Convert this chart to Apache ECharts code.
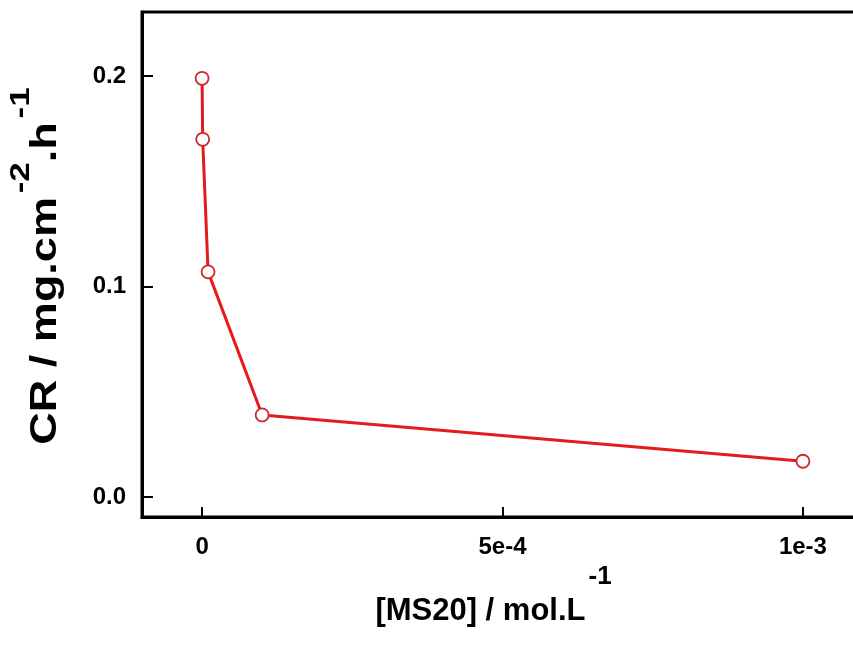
<!DOCTYPE html>
<html>
<head>
<meta charset="utf-8">
<script src="https://cdn.jsdelivr.net/npm/echarts@6/dist/echarts.min.js"></script>
<style>
  html, body { margin: 0; padding: 0; background: #fff; }
  #chart { width: 853px; height: 645px; }
</style>
</head>
<body>
<div id="chart"></div>
<script>
// Corrosion rate versus inhibitor concentration
const concentration = [0, 1e-6, 1e-5, 1e-4, 1e-3];      // mol/L
const corrosionRate = [0.199, 0.170, 0.107, 0.039, 0.017]; // mg/cm2/h

const xTickValues = [0, 5e-4, 1e-3];
const xTickLabels = ['0', '5e-4', '1e-3'];
const yTickValues = [0, 0.1, 0.2];
const yTickLabels = ['0.0', '0.1', '0.2'];

const FONT = '"Liberation Sans", Arial, sans-serif';

const chart = echarts.init(document.getElementById('chart'), null, { renderer: 'canvas' });

chart.setOption({
  animation: false,
  backgroundColor: '#fff',
  grid: {
    left: 142, top: 12, right: -10, bottom: 128,
    outerBoundsMode: 'none',
    containLabel: false,
    show: true, borderColor: '#000', borderWidth: 3, backgroundColor: 'transparent'
  },
  // vertical axis title, stretched along its length
  graphic: [{
    type: 'text',
    x: 46,
    y: 266,
    rotation: Math.PI / 2,
    scaleX: 1.25,
    scaleY: 1,
    silent: true,
    style: {
      text: '{b|CR / mg.cm}{s|-2}{b|.h}{s|-1}',
      align: 'center',
      verticalAlign: 'middle',
      rich: {
        b: { fontFamily: FONT, fontWeight: 'bold', fontSize: 36, fill: '#000', color: '#000' },
        s: { fontFamily: FONT, fontWeight: 'bold', fontSize: 28, fill: '#000', color: '#000', padding: [0, 0, 50, 3] }
      }
    }
  }],
  xAxis: {
    type: 'value',
    min: -1e-4,
    max: 1.1e-3,
    splitLine: { show: false },
    axisLine: { show: true, onZero: false, lineStyle: { color: '#000', width: 3 } },
    axisTick: { show: true, inside: true, length: 10, customValues: xTickValues,
                lineStyle: { color: '#000', width: 2 } },
    axisLabel: {
      customValues: xTickValues,
      formatter: v => xTickLabels[xTickValues.indexOf(v)] ?? '',
      color: '#000', fontFamily: FONT, fontWeight: 'bold', fontSize: 24, margin: 18
    },
    name: '{b|[MS20] / mol.L}{s|-1}',
    nameLocation: 'middle',
    nameGap: 46,
    nameTextStyle: {
      rich: {
        b: { fontFamily: FONT, fontWeight: 'bold', fontSize: 31, color: '#000' },
        s: { fontFamily: FONT, fontWeight: 'bold', fontSize: 26, color: '#000', padding: [0, 18, 70, 3] }
      }
    }
  },
  yAxis: {
    type: 'value',
    min: -0.0095,
    max: 0.2305,
    splitLine: { show: false },
    axisLine: { show: true, onZero: false, lineStyle: { color: '#000', width: 3 } },
    axisTick: { show: true, inside: true, length: 11, customValues: yTickValues,
                lineStyle: { color: '#000', width: 2 } },
    axisLabel: {
      customValues: yTickValues,
      formatter: v => yTickLabels[yTickValues.indexOf(v)] ?? '',
      color: '#000', fontFamily: FONT, fontWeight: 'bold', fontSize: 24, margin: 16
    }
  },
  series: [{
    type: 'line',
    data: concentration.map((c, i) => [c, corrosionRate[i]]),
    symbol: 'circle',
    symbolSize: 13,
    showAllSymbol: true,
    lineStyle: { color: '#e41a1c', width: 3 },
    itemStyle: { color: '#fff', borderColor: '#cc2a2a', borderWidth: 1.8 },
    z: 3
  }]
});
</script>
</body>
</html>
